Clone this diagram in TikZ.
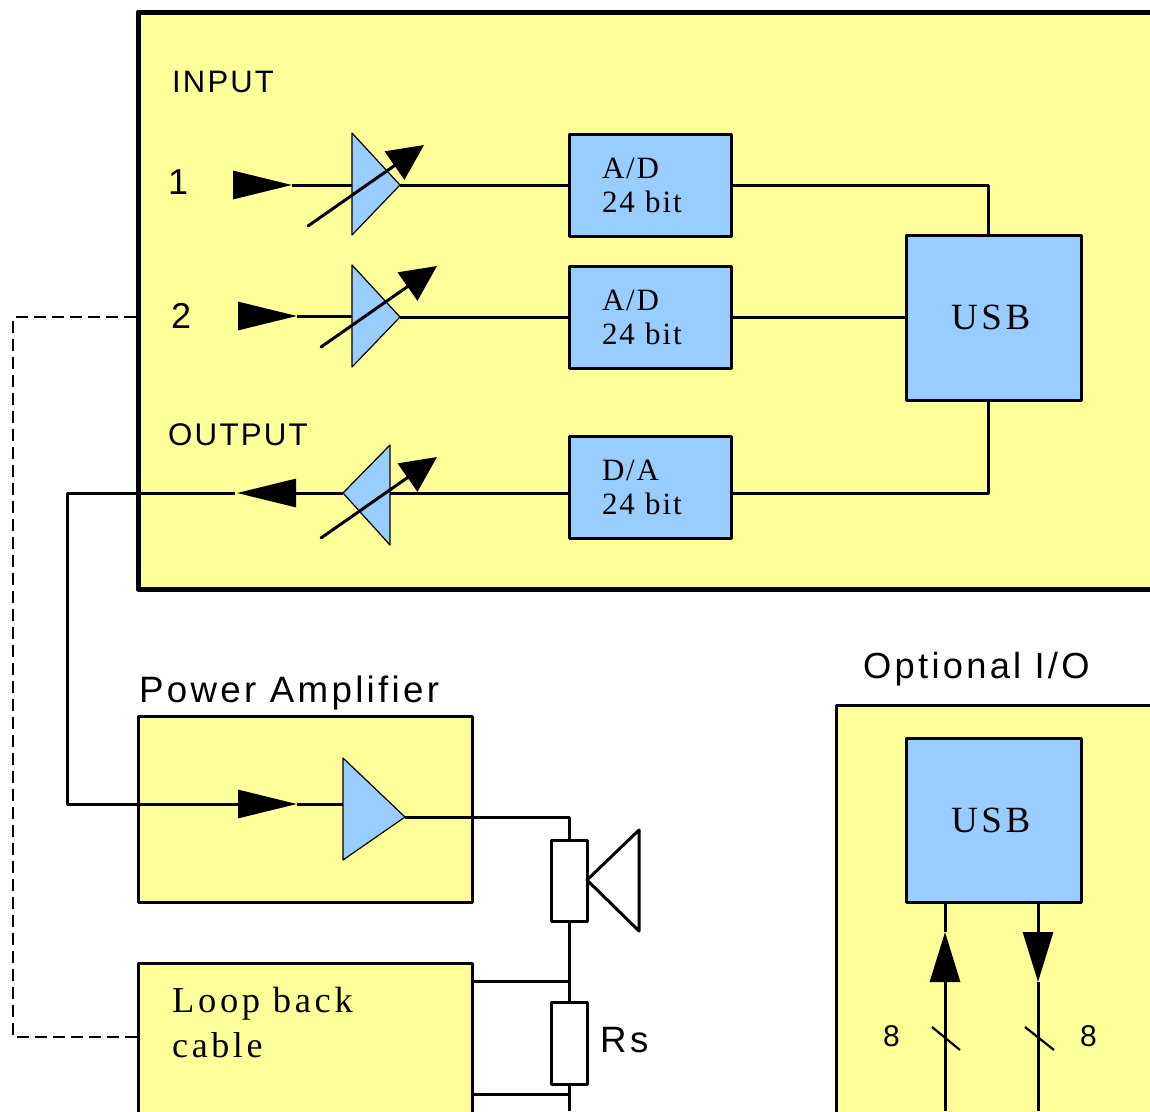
\documentclass[tikz,border=0pt]{standalone}
\usepackage{fontspec}
\setmainfont{Liberation Serif}
\newfontfamily\sanslabelfont[LetterSpace=7]{Liberation Sans}
\newfontfamily\sanstitlefont[LetterSpace=9]{Liberation Sans}
\newfontfamily\seriflabelfont[LetterSpace=6]{Liberation Serif}
\newfontfamily\seriftitlefont[LetterSpace=10]{Liberation Serif}
\usetikzlibrary{
  arrows.meta,
  positioning
}
\definecolor{panelyellow}{HTML}{FFFF99}
\definecolor{partblue}{HTML}{99CCFF}
\tikzset{
  x=1pt,
  y=-1pt,
  wire/.style={line width=3pt, line join=round},
  loopwire/.style={line width=2.8pt, dashed, dash pattern=on 12pt off 6pt},
  panel/.style={draw, line width=3pt, line join=round, fill=panelyellow, inner sep=0pt},
  dspbox/.style={draw, line width=3pt, line join=round, fill=partblue, inner sep=0pt},
  adbox/.style={dspbox, minimum width=162pt, minimum height=102pt, align=left,
    text width=96pt, font=\fontsize{31}{34}\seriflabelfont},
  usbbox/.style={dspbox, minimum width=175pt, align=left, text width=85pt,
    font=\fontsize{37}{41}\seriftitlefont},
  partbox/.style={draw, line width=3pt, line join=round, fill=white, minimum width=36pt,
    minimum height=81pt, inner sep=0pt},
  amp/.style={draw, line width=1.2pt, line join=round, fill=partblue},
  flowtip/.style={wire, -{Triangle[length=59pt, width=28pt]}},
  bustip/.style={wire, -{Triangle[length=50pt, width=30pt]}},
  gaintip/.style={wire, line cap=round, -{Triangle[length=36pt, width=34pt]}},
  sanstext/.style={anchor=base west, inner sep=0pt, font=\fontsize{31}{35}\sanslabelfont},
  titletext/.style={anchor=base west, inner sep=0pt, font=\fontsize{36.7}{40}\sanstitlefont},
  looptext/.style={anchor=base west, inner sep=0pt, font=\fontsize{36}{40}\seriftitlefont}
}
\begin{document}
\begin{tikzpicture}
    \clip (0,0) rectangle (1150,1111);

    \node[panel, line width=5pt, minimum width=1032pt, minimum height=577pt] (interface) at (654,300.5) {};
    \node[panel, minimum width=334pt, minimum height=186pt] (poweramp) at (305,809) {};
    \node[panel, minimum width=334pt, minimum height=186pt] (loopback) at (305,1056) {};
    \node[panel, minimum width=340pt, minimum height=440pt] (optional) at (1006,925) {};

    \node[adbox] (adone) at (650,185) {A/D\\24 bit};
    \node[adbox] (adtwo) at (650,317) {A/D\\24 bit};
    \node[adbox] (da) at (650,487) {D/A\\24 bit};
    \node[usbbox, minimum height=165pt] (usb) at (993.5,317.5) {USB};
    \node[usbbox, minimum height=164pt] (usbio) at (993.5,820) {USB};
    \node[partbox] (coil) at (569,880.5) {};
    \node[partbox, minimum height=82pt] (rs) at (569,1043) {};

    \node[sanstext] (inputlabel) at (172,92) {INPUT};
    \node[sanstext, font=\fontsize{36}{40}\sanslabelfont] (chone) at (168,194) {1};
    \node[sanstext, font=\fontsize{36}{40}\sanslabelfont] (chtwo) at (171,328) {2};
    \node[sanstext, font=\fontsize{31.3}{35}\sanslabelfont] (outputlabel) at (168,445) {OUTPUT};
    \node[titletext] (amplabel) at (139,702) {Power Amplifier};
    \node[titletext, font=\fontsize{36.3}{40}\sanstitlefont] (optlabel) at (863,678) {Optional I/O};
    \node[looptext, font=\fontsize{36.5}{40}\seriftitlefont] (loopone) at (172,1012) {Loop back};
    \node[looptext] (looptwo) at (172,1057) {cable};
    \node[titletext] (rslabel) at (600,1052) {Rs};
    \node[sanstext, font=\fontsize{30}{34}\sanslabelfont] (busone) at (883,1046) {8};
    \node[sanstext, font=\fontsize{30}{34}\sanslabelfont] (bustwo) at (1080,1046) {8};

    \coordinate (inone) at (233,185);
    \coordinate (inonetip) at (292,185);
    \coordinate (intwo) at (238,316);
    \coordinate (intwotip) at (297,316);
    \coordinate (ampone) at (400,185);
    \coordinate (amptwo) at (400,317);
    \coordinate (ampout) at (343,493);
    \coordinate (outbase) at (297,493);
    \coordinate (outtip) at (237,493);
    \coordinate (outend) at (235,493);
    \coordinate (drivebase) at (239,804);
    \coordinate (drivetip) at (297,804);
    \coordinate (drive) at (405,817);
    \coordinate (drivecorner) at (569,817);
    \coordinate (dain) at (569,493);
    \coordinate (daout) at (731,493);
    \coordinate (usbtop) at (988,235);
    \coordinate (usbbot) at (988,400);
    \coordinate (conetip) at (587,880);
    \coordinate (loopsense) at (569,981);
    \coordinate (loopreturn) at (569,1094);
    \coordinate (rsend) at (569,1111);

    \draw[wire] (inonetip) -- (352,185);
    \draw[wire] (intwotip) -- (352,316);
    \draw[wire] (ampout) -- (outbase);
    \draw[wire] (drivetip) -- (343,804);

    \draw[amp] (352,133) -- (ampone) -- (352,235) -- cycle;
    \draw[amp] (352,265) -- (amptwo) -- (352,367) -- cycle;
    \draw[amp] (390,445) -- (ampout) -- (390,545) -- cycle;
    \draw[amp] (343,758) -- (drive) -- (343,860) -- cycle;

    \draw[flowtip] (inone) -- (inonetip);
    \draw[flowtip] (intwo) -- (intwotip);
    \draw[flowtip] (outbase) -- (outtip);
    \draw[flowtip] (drivebase) -- (drivetip);

    \draw[gaintip] (308,226) -- (424,145);
    \draw[gaintip] (321,347) -- (437,266);
    \draw[gaintip] (321,538) -- (437,457);

    \draw[wire] (ampone) -- (adone.west);
    \draw[wire] (amptwo) -- (adtwo.west);
    \draw[wire] (dain) -- (390,493);
    \draw[wire] (adone.east) -| (usbtop);
    \draw[wire] (adtwo.east) -- (adtwo.east -| usb.west);
    \draw[wire] (daout) -| (usbbot);
    \draw[wire] (outend) -| (67,804) -- (drivebase);

    \draw[wire] (drive) -- (drivecorner) -- (coil.north);
    \draw[wire] (coil.south) -- (rs.north);
    \draw[wire] (rs.south) -- (rsend);
    \draw[wire] (conetip) -- (639,830) -- (639,931) -- cycle;
    \draw[wire] (loopback.east |- loopsense) -- (loopsense);
    \draw[wire] (loopback.east |- loopreturn) -- (loopreturn);

    \draw[loopwire] (interface.west |- adtwo) -| (13,1037) -- (loopback.west |- 0,1037);

    \draw[wire] (945,1111) -- (945,982);
    \draw[bustip] (945,982) -- (945,932);
    \draw[wire] (945,932) -- (945,902);
    \draw[wire] (1038,902) -- (1038,932);
    \draw[bustip] (1038,932) -- (1038,982);
    \draw[wire] (1038,982) -- (1038,1111);
    \draw[line width=2.2pt] (932,1027) -- (960,1050);
    \draw[line width=2.2pt] (1025,1027) -- (1054,1050);
\end{tikzpicture}
\end{document}
